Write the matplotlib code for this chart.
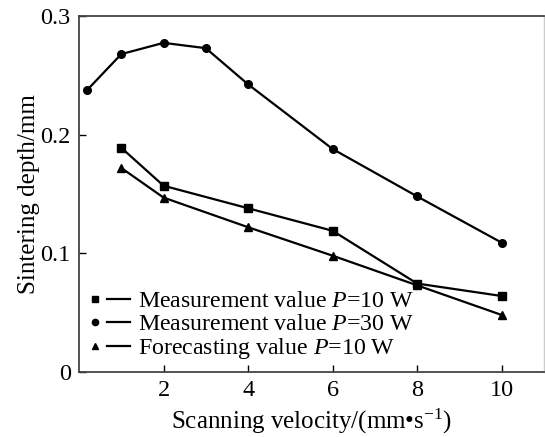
import matplotlib
matplotlib.use("Agg")
import matplotlib.pyplot as plt
from matplotlib.lines import Line2D
from matplotlib.legend_handler import HandlerTuple

plt.rcParams['font.family'] = ['Liberation Serif', 'DejaVu Serif']
plt.rcParams['mathtext.fontset'] = 'custom'
plt.rcParams['mathtext.rm'] = 'Liberation Serif'
plt.rcParams['mathtext.it'] = 'Liberation Serif:italic'

# Data
x_p30 = [0.2, 1, 2, 3, 4, 6, 8, 10]
y_p30 = [0.238, 0.268, 0.2775, 0.273, 0.2425, 0.188, 0.148, 0.109]
x_p10 = [1, 2, 4, 6, 8, 10]
y_p10 = [0.189, 0.157, 0.138, 0.119, 0.0745, 0.064]
x_fc = [1, 2, 4, 6, 8, 10]
y_fc = [0.172, 0.147, 0.122, 0.098, 0.073, 0.048]
labels = ['Measurement value $\\it{P}$=10 W',
          'Measurement value $\\it{P}$=30 W',
          'Forecasting value $\\it{P}$=10 W']
xticks = [2, 4, 6, 8, 10]
yticks = [0, 0.1, 0.2, 0.3]
yticklabels = ['0', '0.1', '0.2', '0.3']

fig = plt.figure(figsize=(5.45, 4.37), dpi=100)
ax = fig.add_axes([0.145, 0.149, 0.853, 0.814])

lw = 1.6
ax.plot(x_p10, y_p10, color='black', lw=lw, marker='s', ms=5.5)
ax.plot(x_p30, y_p30, color='black', lw=lw, marker='o', ms=5.5)
ax.plot(x_fc, y_fc, color='black', lw=lw, marker='^', ms=5.5)

ax.set_xlim(0, 11)
ax.set_ylim(0, 0.3)
ax.set_xticks(xticks)
ax.set_xticklabels([str(t) for t in xticks])
ax.set_yticks(yticks)
ax.set_yticklabels(yticklabels)
ax.tick_params(direction='in', length=5, width=1, labelsize=17.5, pad=6)

for s in ['left', 'bottom', 'top']:
    ax.spines[s].set_color('#444444')
    ax.spines[s].set_linewidth(1.3)
ax.spines['right'].set_color('#cccccc')
ax.spines['right'].set_linewidth(1)

ax.set_xlabel('Scanning velocity/(mm\u2022s$^{-1}$)', fontsize=18, labelpad=4)
ax.set_ylabel('Sintering depth/mm', fontsize=18, labelpad=0.5)

handles = []
for m in ['s', 'o', '^']:
    mk = Line2D([], [], color='black', marker=m, ms=4.5, lw=0)
    ln = Line2D([], [], color='black', lw=lw)
    handles.append((mk, ln))
leg = ax.legend(handles, labels, handler_map={tuple: HandlerTuple(ndivide=2, pad=0.05)},
                loc='lower left', bbox_to_anchor=(0.011, 0.03), frameon=False,
                fontsize=17.2, handlelength=1.9, handletextpad=0.34,
                labelspacing=0.05, borderaxespad=0, borderpad=0)

fig.savefig('out.png', dpi=100)
